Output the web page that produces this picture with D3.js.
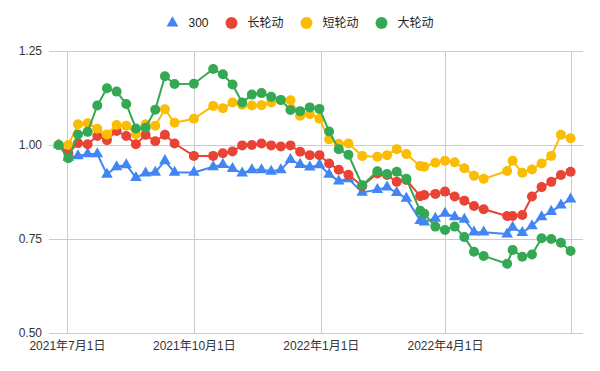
<!DOCTYPE html>
<html>
<head>
<meta charset="utf-8">
<script src="https://cdn.jsdelivr.net/npm/d3@7"></script>
<style>
body { margin: 0; background: #fff; }
text { font-family: "Liberation Sans", Arial, "Noto Sans CJK SC", sans-serif; }
</style>
</head>
<body>
<div class="vis"></div>
<script>
// values
const dates = [
    "2021-06-25", "2021-07-02", "2021-07-09", "2021-07-16", "2021-07-23", "2021-07-30",
    "2021-08-06", "2021-08-13", "2021-08-20", "2021-08-27", "2021-09-03", "2021-09-10",
    "2021-09-17", "2021-10-01", "2021-10-15", "2021-10-22", "2021-10-29", "2021-11-05",
    "2021-11-12", "2021-11-19", "2021-11-26", "2021-12-03", "2021-12-10", "2021-12-17",
    "2021-12-24", "2021-12-31", "2022-01-07", "2022-01-14", "2022-01-21", "2022-01-31",
    "2022-02-11", "2022-02-18", "2022-02-25", "2022-03-04", "2022-03-14", "2022-03-17",
    "2022-03-25", "2022-04-01", "2022-04-08", "2022-04-15", "2022-04-22", "2022-04-29",
    "2022-05-16", "2022-05-20", "2022-05-27", "2022-06-03", "2022-06-10", "2022-06-17",
    "2022-06-24", "2022-07-01"
]
const s300 = [
    1.000, 0.967, 0.971, 0.976, 0.976, 0.922, 0.942, 0.947, 0.913, 0.925, 0.927, 0.958,
    0.927, 0.927, 0.942, 0.948, 0.937, 0.925, 0.934, 0.934, 0.930, 0.934, 0.961, 0.948,
    0.941, 0.947, 0.922, 0.904, 0.910, 0.874, 0.881, 0.888, 0.873, 0.858, 0.799, 0.795,
    0.805, 0.818, 0.809, 0.802, 0.768, 0.768, 0.763, 0.781, 0.767, 0.785, 0.809, 0.823,
    0.840, 0.856
]
const longRot = [
    1.000, 0.978, 1.005, 1.002, 1.024, 1.013, 1.037, 1.024, 1.002, 1.027, 1.010, 1.027,
    1.004, 0.971, 0.971, 0.978, 0.983, 0.999, 1.000, 1.004, 0.999, 0.996, 0.999, 0.982,
    0.973, 0.973, 0.951, 0.934, 0.921, 0.891, 0.924, 0.920, 0.902, 0.907, 0.864, 0.867,
    0.870, 0.876, 0.863, 0.852, 0.838, 0.829, 0.811, 0.811, 0.814, 0.863, 0.888, 0.902,
    0.920, 0.929
]
const shortRot = [
    1.000, 1.000, 1.055, 1.058, 1.043, 1.028, 1.053, 1.051, 1.029, 1.055, 1.051, 1.095,
    1.059, 1.070, 1.104, 1.098, 1.113, 1.107, 1.105, 1.106, 1.113, 1.119, 1.119, 1.078,
    1.082, 1.070, 1.015, 1.003, 1.004, 0.971, 0.969, 0.973, 0.989, 0.976, 0.944, 0.942,
    0.953, 0.958, 0.954, 0.938, 0.918, 0.910, 0.931, 0.958, 0.926, 0.935, 0.951, 0.971,
    1.027, 1.018
]
const bigRot = [
    1.000, 0.965, 1.028, 1.035, 1.105, 1.151, 1.142, 1.109, 1.044, 1.046, 1.094, 1.183,
    1.162, 1.163, 1.202, 1.188, 1.161, 1.113, 1.134, 1.138, 1.128, 1.120, 1.093, 1.090,
    1.100, 1.096, 1.036, 0.989, 0.974, 0.893, 0.930, 0.923, 0.929, 0.910, 0.825, 0.817,
    0.783, 0.774, 0.783, 0.755, 0.716, 0.705, 0.684, 0.721, 0.703, 0.709, 0.752, 0.750,
    0.740, 0.718
]
const seriesNames = ["300", "长轮动", "短轮动", "大轮动"]
const seriesColors = ["#4285f4", "#ea4335", "#fbbc04", "#34a853"]
const yTicks = [0.50, 0.75, 1.00, 1.25]
const xTickDates = ["2021-07-01", "2021-10-01", "2022-01-01", "2022-04-01", "2022-07-01"]
const xTickLabels = ["2021年7月1日", "2021年10月1日", "2022年1月1日", "2022年4月1日", ""]
const xDomain = ["2021-06-18", "2022-07-10"]

const W = 600, H = 371
const plot = { left: 49, right: 583, top: 51, bottom: 333 }
const parse = d3.timeParse("%Y-%m-%d")

const svg = d3.select(".vis").append("svg")
    .attr("width", W)
    .attr("height", H)
    .style("background-color", "#fff")

const x = d3.scaleTime().domain(xDomain.map(parse)).range([plot.left, plot.right])
const y = d3.scaleLinear().domain([0.5, 1.25]).range([plot.bottom, plot.top])

// gridlines + labels
svg.append("g")
    .attr("class", "y axis")
    .attr("transform", `translate(${plot.left}, 0)`)
    .call(d3.axisLeft(y).tickValues(yTicks).tickFormat(d3.format(".2f"))
        .tickSize(-(plot.right - plot.left)).tickPadding(7))

svg.append("g")
    .attr("class", "x axis")
    .attr("transform", `translate(0, ${plot.bottom})`)
    .call(d3.axisBottom(x).tickValues(xTickDates.map(parse)).tickFormat((d, i) => xTickLabels[i])
        .tickSize(-(plot.bottom - plot.top)).tickPadding(8))

svg.selectAll(".axis .domain").remove()
svg.selectAll(".axis line").attr("stroke", "#cccccc").attr("shape-rendering", "crispEdges")
svg.selectAll(".axis text").attr("fill", "#333").style("font-size", "12px")

// series
const allSeries = [s300, longRot, shortRot, bigRot]
const line = d3.line().x(d => x(d.date)).y(d => y(d.v))

allSeries.forEach((vals, i) => {
    let data = vals.map((v, j) => ({ date: parse(dates[j]), v: v }))
    let g = svg.append("g").attr("class", `series s${i}`)

    g.append("path")
        .datum(data)
        .attr("fill", "none")
        .attr("stroke", seriesColors[i])
        .attr("stroke-width", 2)
        .attr("stroke-linejoin", "round")
        .attr("d", line)

    if (i == 0) {
        g.selectAll("path.pt")
            .data(data)
            .join("path")
            .attr("class", "pt")
            .attr("fill", seriesColors[i])
            .attr("d", d3.symbol(d3.symbolTriangle, 58))
            .attr("transform", d => `translate(${x(d.date)}, ${y(d.v)})`)
    } else {
        g.selectAll("circle")
            .data(data)
            .join("circle")
            .attr("fill", seriesColors[i])
            .attr("cx", d => x(d.date))
            .attr("cy", d => y(d.v))
            .attr("r", 5)
    }
})

// legend, centred over the chart
const legend = svg.append("g").attr("class", "legend")
let cursor = 0
seriesNames.forEach((name, i) => {
    let item = legend.append("g").attr("transform", `translate(${cursor}, 0)`)
    if (i == 0) {
        item.append("path")
            .attr("fill", seriesColors[i])
            .attr("d", d3.symbol(d3.symbolTriangle, 60))
    } else {
        item.append("circle").attr("r", 6).attr("fill", seriesColors[i])
    }
    let t = item.append("text")
        .attr("x", 16)
        .attr("dy", "0.35em")
        .attr("fill", "#222")
        .style("font-size", "12px")
        .text(name)
    cursor += 16 + t.node().getComputedTextLength() + 23
})
const legendWidth = cursor - 23 + 6
legend.attr("transform", `translate(${W / 2 - legendWidth / 2 + 6}, 23)`)
</script>
</body>
</html>
